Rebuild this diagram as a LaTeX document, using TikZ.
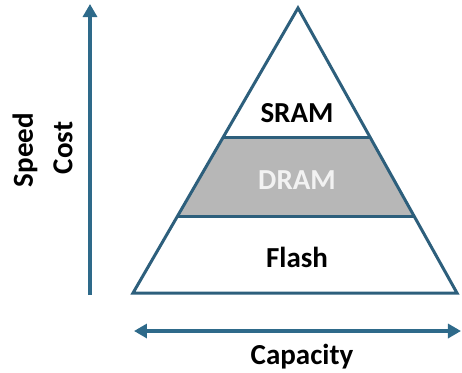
\documentclass[tikz,border=0pt]{standalone}
\usepackage{fontspec}
\setmainfont{Carlito}
\usepackage{xcolor}
\usetikzlibrary{arrows.meta, positioning, calc}
\definecolor{pyrline}{RGB}{45,95,124}
\definecolor{pyrarrow}{RGB}{46,106,138}
\definecolor{pyrfill}{RGB}{183,183,183}
\tikzset{
  pyredge/.style={
    draw=pyrline, line width=1.5pt, line join=miter
  },
  pyrlabel/.style={
    font=\fontsize{14.5}{17}\selectfont\bfseries, text=black, inner sep=0pt
  },
  axisarrow/.style={
    -{Triangle[length=6.5pt,width=7pt]}, line width=1.6pt, color=pyrarrow
  },
  axislabel/.style={
    font=\fontsize{14.5}{17}\selectfont\bfseries, text=black, inner sep=0pt,
    align=center
  },
}

\begin{document}
\begin{tikzpicture}[x=0.5pt, y=-0.5pt]
  \useasboundingbox (0,0) rectangle (462,372);

  % Pyramid corners and band edges
  \coordinate (apex) at (298,8);
  \coordinate (bl) at (133,293);
  \coordinate (br) at (457,293);
  \coordinate (sl) at ($(apex)!0.456!(bl)$);
  \coordinate (sr) at ($(apex)!0.456!(br)$);
  \coordinate (fl) at ($(apex)!0.733!(bl)$);
  \coordinate (fr) at ($(apex)!0.733!(br)$);

  % DRAM band
  \fill[pyrfill] (sl) -- (sr) -- (fr) -- (fl) -- cycle;
  \draw[pyredge] (apex) -- (br) -- (bl) -- cycle;
  \draw[pyredge] (sl) -- (sr);
  \draw[pyredge] (fl) -- (fr);

  \node[pyrlabel] (sram) at (297,113) {SRAM};
  \node[pyrlabel, text=white!95!black] (dram) at (297,180) {DRAM};
  \node[pyrlabel] (flash) at (297,257) {Flash};

  % Axes
  \coordinate (vlow) at (90,295);
  \coordinate (vtop) at (90,4);
  \coordinate (hleft) at (134,331);
  \coordinate (hright) at (461,331);
  \draw[axisarrow] (vlow) -- (vtop);
  \draw[axisarrow, {Triangle[length=6.5pt,width=7pt]}-{Triangle[length=6.5pt,width=7pt]}] (hleft) -- (hright);

  \node[axislabel, rotate=90] (speed) at (25,150) {Speed};
  \node[axislabel, rotate=90] (cost) at (63,148) {Cost};
  \node[axislabel] (capacity) at (302,357) {Capacity};
\end{tikzpicture}
\end{document}
